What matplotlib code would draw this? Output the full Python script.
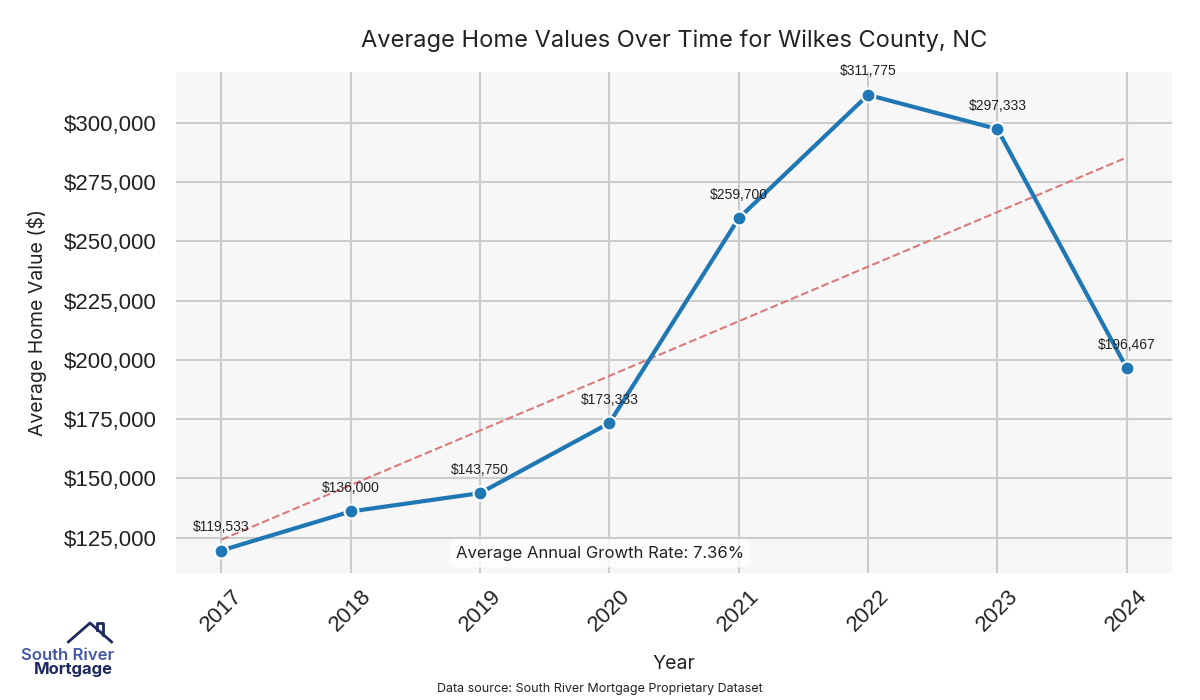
import numpy as np
import matplotlib
matplotlib.use('Agg')
from matplotlib import pyplot as plt
from matplotlib.ticker import FuncFormatter
from matplotlib.lines import Line2D

years = [2017, 2018, 2019, 2020, 2021, 2022, 2023, 2024]
valores = [119533, 136000, 143750, 173333, 259700, 311775, 297333, 196467]
growth_rate = 7.36

titulo = 'Average Home Values Over Time for Wilkes County, NC'
fuente = 'Data source: South River Mortgage Proprietary Dataset'

fig = plt.figure(figsize=(12, 7), dpi=100)
ax = fig.add_axes([0.1467, 0.181, 0.83, 0.716])
ax.set_facecolor('#f7f7f7')
for s in ax.spines.values():
    s.set_visible(False)
ax.grid(True, color='#cccccc', linewidth=1.5)
ax.set_axisbelow(True)

# linea de tendencia
coef = np.polyfit(years, valores, 1)
ax.plot(years, np.polyval(coef, years), linestyle='--', color='#d97b7b', linewidth=1.5, zorder=2)

ax.plot(years, valores, color='#1f77b4', linewidth=3, marker='o', markersize=10,
        markeredgecolor='white', markeredgewidth=1.5, zorder=3)

for x, y in zip(years, valores):
    ax.annotate('${:,}'.format(y), (x, y), textcoords='offset points', xytext=(0, 14),
                ha='center', fontsize=10, family='Liberation Sans', color='#222222')

ax.yaxis.set_major_formatter(FuncFormatter(lambda v, p: '${:,.0f}'.format(v)))
ax.set_xticks(years)
ax.tick_params(axis='y', length=0, labelsize=16, labelcolor='#222222', pad=14)
ax.tick_params(axis='x', length=0, labelsize=16, labelcolor='#222222', pad=9)
for lab in ax.get_xticklabels() + ax.get_yticklabels():
    lab.set_family('Liberation Sans')
plt.setp(ax.get_xticklabels(), rotation=45)

ax.set_xlabel('Year', fontsize=14, family='Inter', color='#222222', labelpad=14)
ax.set_ylabel('Average Home Value ($)', fontsize=14, family='Inter', color='#222222', labelpad=12)
ax.set_title(titulo, fontsize=17, family='Inter', color='#222222', pad=18)

ax.text(0.426, 0.04, 'Average Annual Growth Rate: {:.2f}%'.format(growth_rate), transform=ax.transAxes,
        ha='center', va='center', fontsize=12, family='Inter', color='#222222',
        bbox=dict(boxstyle='round,pad=0.4', facecolor='white', edgecolor='none', alpha=0.8))

fig.text(0.5, 0.016, fuente, ha='center', va='center', fontsize=9, family='Inter', color='#222222')

# logo
fig.text(0.056, 0.064, 'South River', ha='center', va='center', fontsize=12, family='Inter',
         weight='semibold', color='#4257a8')
fig.text(0.061, 0.043, 'Mortgage', ha='center', va='center', fontsize=12, family='Inter',
         weight='bold', color='#1e2a5e')
fig.add_artist(Line2D([0.057, 0.075, 0.093], [0.083, 0.11, 0.083], color='#1e2a5e', linewidth=2,
                      transform=fig.transFigure))
fig.add_artist(Line2D([0.081, 0.081, 0.086, 0.086], [0.1, 0.11, 0.11, 0.093], color='#1e2a5e',
                      linewidth=2, transform=fig.transFigure))

fig.savefig('out.png', dpi=100)
